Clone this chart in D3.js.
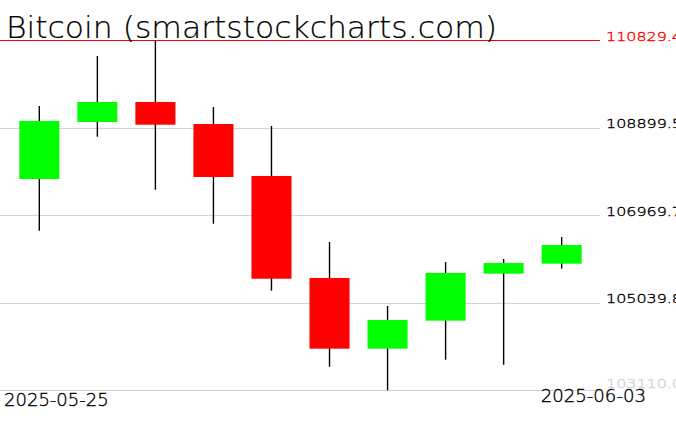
<!DOCTYPE html>
<html>
<head>
<meta charset="utf-8">
<script src="https://cdn.jsdelivr.net/npm/d3@7"></script>
<style>
  body { margin: 0; background: #fff; }
  svg { display: block; }
  text { font-family: "DejaVu Sans", sans-serif; font-weight: 200; }
</style>
</head>
<body>
<div id="chart"></div>
<script>
// daily candles
var dates  = ["2025-05-25", "2025-05-26", "2025-05-27", "2025-05-28", "2025-05-29",
              "2025-05-30", "2025-05-31", "2025-06-01", "2025-06-02", "2025-06-03"];
var opens  = [107766, 109023, 109463, 108978, 107833, 105585, 104027, 104644, 105680, 105900];
var highs  = [109375, 110477, 110829.4, 109353, 108934, 106378, 104968, 105937, 106003, 106488];
var lows   = [106627, 108699, 107531, 106781, 105305, 103630, 103110.0, 103784, 103674, 105790];
var closes = [109045, 109463, 108963, 107810, 105569, 104027, 104659, 105695, 105915, 106312];

var yTicks = [103110.0, 105039.8, 106969.7, 108899.5, 110829.4];
var xLabels = ["2025-05-25", "2025-06-03"];

let width = 676, height = 431;
let plot_right = 600;

var svg = d3.select("#chart")
    .append("svg")
    .attr("width", width)
    .attr("height", height);

var x = d3.scaleBand()
    .domain(dates)
    .range([10.3, 590.7]);

var y = d3.scaleLinear()
    .domain([d3.min(lows), d3.max(highs)])
    .range([390.3, 40]);

var body_w = x.bandwidth() * 0.69;

// grid lines, the top one (max) in red
svg.selectAll(".grid")
    .data(yTicks)
    .enter().append("line")
    .attr("class", "grid")
    .attr("x1", 0)
    .attr("x2", plot_right)
    .attr("y1", function(d) { return Math.round(y(d)) + 0.5; })
    .attr("y2", function(d) { return Math.round(y(d)) + 0.5; })
    .attr("stroke", function(d, i) { return i == yTicks.length - 1 ? "#ff0000" : "#d3d3d3"; })
    .attr("stroke-width", 1);

var labelColor = function(d, i) {
    if (i == yTicks.length - 1) return "#ff0000";
    if (i == 0) return "#d3d3d3";
    return "#000";
};

svg.selectAll(".ylabel")
    .data(yTicks)
    .enter().append("text")
    .attr("class", "ylabel")
    .attr("x", 606)
    .attr("y", function(d, i) { return y(d) + (i == 0 ? -2 : 0.5); })
    .attr("textLength", 76)
    .attr("lengthAdjust", "spacingAndGlyphs")
    .style("font-size", "12.5px")
    .style("fill", labelColor)
    .style("stroke", labelColor)
    .style("stroke-width", 0.35)
    .text(function(d) { return d.toFixed(1); });

var candles = svg.selectAll(".candle")
    .data(dates)
    .enter().append("g")
    .attr("class", "candle");

candles.append("line")
    .attr("x1", function(d) { return x(d) + x.bandwidth() / 2; })
    .attr("x2", function(d) { return x(d) + x.bandwidth() / 2; })
    .attr("y1", function(d, i) { return y(highs[i]); })
    .attr("y2", function(d, i) { return y(lows[i]); })
    .attr("stroke", "#000")
    .attr("stroke-width", 1.4);

candles.append("rect")
    .attr("x", function(d) { return x(d) + (x.bandwidth() - body_w) / 2; })
    .attr("width", body_w)
    .attr("y", function(d, i) { return y(Math.max(opens[i], closes[i])); })
    .attr("height", function(d, i) { return Math.abs(y(opens[i]) - y(closes[i])); })
    .attr("fill", function(d, i) { return closes[i] >= opens[i] ? "#00ff00" : "#ff0000"; });

// date labels under first and last candle
svg.append("text")
    .attr("x", 4)
    .attr("y", 406)
    .attr("textLength", 104.7)
    .attr("lengthAdjust", "spacingAndGlyphs")
    .style("font-size", "17.4px")
    .style("stroke", "#000")
    .style("stroke-width", 0.35)
    .text(xLabels[0]);

svg.append("text")
    .attr("x", 540.7)
    .attr("y", 401.7)
    .attr("textLength", 105.3)
    .attr("lengthAdjust", "spacingAndGlyphs")
    .style("font-size", "17.4px")
    .style("stroke", "#000")
    .style("stroke-width", 0.35)
    .text(xLabels[1]);

svg.append("text")
    .attr("x", 6)
    .attr("y", 38)
    .attr("textLength", 491)
    .attr("lengthAdjust", "spacingAndGlyphs")
    .style("font-size", "30px")
    .style("stroke", "#000")
    .style("stroke-width", 0.2)
    .text("Bitcoin (smartstockcharts.com)");
</script>
</body>
</html>
